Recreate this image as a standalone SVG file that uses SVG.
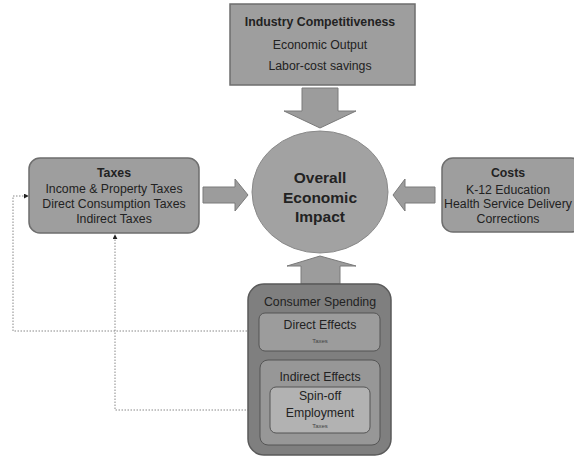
<svg xmlns="http://www.w3.org/2000/svg" width="574" height="458" viewBox="0 0 574 458">
<defs>
<style>
.box{fill:#9e9e9e;stroke:#6e6e6e;stroke-width:1.5}
.arrow{fill:#9c9c9c;stroke:#7a7a7a;stroke-width:1}
.t{font-family:"Liberation Sans",Arial,sans-serif;font-size:12.3px;fill:#222;text-anchor:middle}
.b{font-weight:bold}
.c{font-size:15.5px}
.s{font-size:6px;fill:#444}
.dot{fill:none;stroke:#888;stroke-width:1;stroke-dasharray:1.5 1.5}
</style>
<marker id="ah" viewBox="0 0 6 6" refX="5" refY="3" markerWidth="5" markerHeight="5" orient="auto">
<path d="M0,0 L6,3 L0,6 z" fill="#222"/>
</marker>
</defs>
<rect width="574" height="458" fill="#fff"/>

<g id="connectors">
<path class="dot" d="M259,331 H13 V196 H28" marker-end="url(#ah)"/>
<path class="dot" d="M270,410 H115 V235" marker-end="url(#ah)"/>
<path class="arrow" d="M302,88 H338 V111 H356 L320,128 L284,111 H302 Z"/>
<path class="arrow" d="M203,187 H235 V179 L248,195 L235,211 V203 H203 Z"/>
<path class="arrow" d="M435,187 H405 V179 L393,195 L405,211 V203 H435 Z"/>
<path class="arrow" d="M301,284 V266 H287 L320,256 L356,266 H340 V284 Z"/>
</g>

<g id="industry">
<rect class="box" x="230" y="4" width="185" height="81"/>
<text class="t b" x="320" y="26">Industry Competitiveness</text>
<text class="t" x="320" y="49">Economic Output</text>
<text class="t" x="320" y="70">Labor-cost savings</text>
</g>

<g id="overall">
<ellipse cx="320" cy="192" rx="68" ry="61" fill="#a2a2a2" stroke="#8a8a8a" stroke-width="1"/>
<text class="t b c" x="320" y="183">Overall</text>
<text class="t b c" x="320" y="203">Economic</text>
<text class="t b c" x="320" y="222">Impact</text>
</g>

<g id="taxes">
<rect class="box" x="29" y="158" width="170" height="75" rx="11"/>
<text class="t b" x="114" y="177">Taxes</text>
<text class="t" x="114" y="193">Income &amp; Property Taxes</text>
<text class="t" x="114" y="208">Direct Consumption Taxes</text>
<text class="t" x="114" y="223">Indirect Taxes</text>
</g>

<g id="costs">
<rect class="box" x="442" y="158" width="140" height="74" rx="11"/>
<text class="t b" x="508" y="177">Costs</text>
<text class="t" x="508" y="194">K-12 Education</text>
<text class="t" x="508" y="208">Health Service Delivery</text>
<text class="t" x="508" y="223">Corrections</text>
</g>

<g id="consumer">
<rect x="248" y="284" width="143" height="171" rx="16" fill="#7f7f7f" stroke="#5a5a5a" stroke-width="1.5"/>
<text class="t" x="320" y="306">Consumer Spending</text>
</g>

<g id="direct">
<rect x="259" y="313" width="121" height="38" rx="6" fill="#9c9c9c" stroke="#555" stroke-width="1"/>
<text class="t" x="320" y="329">Direct Effects</text>
<text class="t s" x="320" y="343">Taxes</text>
</g>

<g id="indirect">
<rect x="260" y="360" width="120" height="85" rx="8" fill="#979797" stroke="#555" stroke-width="1"/>
<text class="t" x="320" y="381">Indirect Effects</text>
</g>

<g id="spinoff">
<rect x="270" y="387" width="100" height="46" rx="6" fill="#b2b2b2" stroke="#555" stroke-width="1"/>
<text class="t" x="320" y="400">Spin-off</text>
<text class="t" x="320" y="417">Employment</text>
<text class="t s" x="320" y="428">Taxes</text>
</g>
</svg>
